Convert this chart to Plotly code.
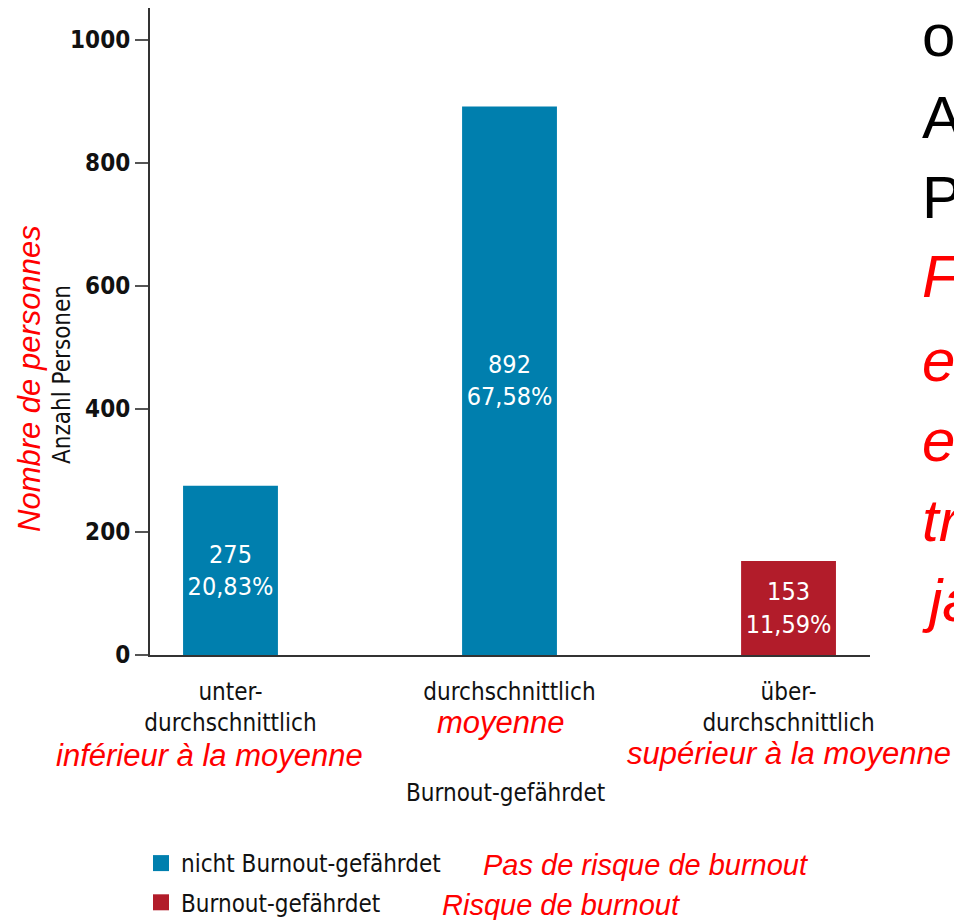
import plotly.graph_objects as go

# ---------------- data ----------------
categories = ["unter-<br>durchschnittlich", "durchschnittlich", "über-<br>durchschnittlich"]
categories_fr = ["inférieur à la moyenne", "moyenne", "supérieur à la moyenne"]
counts = [275, 892, 153]
percents = ["20,83%", "67,58%", "11,59%"]
series_of_bar = [0, 0, 1]          # 0 = nicht Burnout-gefährdet, 1 = Burnout-gefährdet
series_names = ["nicht Burnout-gefährdet", "Burnout-gefährdet"]
series_names_fr = ["Pas de risque de burnout", "Risque de burnout"]
y_ticks = [0, 200, 400, 600, 800, 1000]
y_title = "Anzahl Personen"
y_title_fr = "Nombre de personnes"
x_title = "Burnout-gefährdet"
side_text_black = ["o", "A", "P"]
side_text_red = ["F", "e", "e", "tr", "ja"]

# ---------------- style ----------------
COLORS = ["#007FAE", "#B21C2A"]
COND = "Liberation Sans Narrow, DejaVu Sans Condensed, Roboto Condensed, Liberation Sans, sans-serif"
ARIAL = "Liberation Sans, Arial, sans-serif"
RED = "#FF0000"

W, H = 954, 920
L, R, T, B = 150, 84, 8, 265
PW, PH = W - L - R, H - T - B

def px_x(page_x):
    return (page_x - L) / PW

def px_y(page_y):
    return (H - B - page_y) / PH

fig = go.Figure()

xpos = list(range(len(categories)))
for s in range(len(series_names)):
    idx = [i for i in xpos if series_of_bar[i] == s]
    fig.add_trace(go.Bar(
        x=[xpos[i] for i in idx],
        y=[counts[i] for i in idx],
        customdata=[percents[i] for i in idx],
        texttemplate="%{y}<br>%{customdata}",
        textposition="inside",
        insidetextanchor="middle",
        constraintext="none",
        textangle=0,
        textfont=dict(color="white", size=25, family=COND),
        marker=dict(color=COLORS[s], line=dict(width=0)),
        width=0.34,
        showlegend=False,
        hoverinfo="skip",
    ))

# legend entries (square markers)
for s in range(len(series_names)):
    fig.add_trace(go.Scatter(
        x=[None], y=[None], mode="markers",
        marker=dict(symbol="square", size=16, color=COLORS[s]),
        name=series_names[s], legendgroup="g%d" % s,
        showlegend=True,
    ))

fig.update_layout(
    width=W, height=H,
    margin=dict(l=L, r=R, t=T, b=B, pad=0, autoexpand=False),
    paper_bgcolor="white", plot_bgcolor="white",
    barmode="overlay",
    showlegend=True,
    legend=dict(
        x=px_x(141), y=px_y(841), xanchor="left", yanchor="top",
        orientation="v", itemsizing="trace", traceorder="grouped",
        font=dict(family=COND, size=24, color="#111"),
        bgcolor="rgba(0,0,0,0)", tracegroupgap=5,
    ),
    font=dict(family=COND, color="#111"),
)

fig.update_xaxes(
    range=[-0.2885, 2.292],
    tickvals=xpos, ticktext=categories,
    showline=True, linecolor="#333", linewidth=2,
    ticks="", showgrid=False, zeroline=False,
    tickfont=dict(family=COND, size=24, color="#111"),
    ticklabelstandoff=14,
)
fig.update_yaxes(
    range=[0, 1052],
    tickvals=y_ticks,
    showline=True, linecolor="#333", linewidth=2,
    ticks="outside", ticklen=13, tickwidth=2, tickcolor="#555",
    showgrid=False, zeroline=False,
    tickfont=dict(family=COND, size=24, color="#111", weight="bold"),
)

ann = []
# French category labels
fr_pos = [(-21, 755), (-9, 722), (0, 753)]
for i, t in enumerate(categories_fr):
    ann.append(dict(text=t, xref="x", x=xpos[i], xshift=fr_pos[i][0],
                    yref="paper", y=px_y(fr_pos[i][1]), xanchor="center", yanchor="middle",
                    showarrow=False, font=dict(family=ARIAL, size=31, color=RED, style="italic")))
# x axis title
ann.append(dict(text=x_title, xref="paper", x=px_x(505), yref="paper", y=px_y(793),
                xanchor="center", yanchor="middle", showarrow=False,
                font=dict(family=COND, size=24, color="#111")))
# y axis titles
ann.append(dict(text=y_title, xref="paper", x=px_x(62), yref="paper", y=px_y(375),
                xanchor="center", yanchor="middle", textangle=-90, showarrow=False,
                font=dict(family=COND, size=24, color="#111")))
ann.append(dict(text=y_title_fr, xref="paper", x=px_x(30), yref="paper", y=px_y(379),
                xanchor="center", yanchor="middle", textangle=-90, showarrow=False,
                font=dict(family=ARIAL, size=31, color=RED, style="italic")))
# legend French labels
leg_fr = [(481, 865), (440, 905)]
for s, t in enumerate(series_names_fr):
    ann.append(dict(text=t, xref="paper", x=px_x(leg_fr[s][0]), yref="paper", y=px_y(leg_fr[s][1]),
                    xanchor="left", yanchor="middle", showarrow=False,
                    font=dict(family=ARIAL, size=29, color=RED, style="italic")))
# cut-off side text on the right
side_y_black = [36, 118, 197]
side_y_red = [276, 360, 440, 520, 600]
for t, yy in zip(side_text_black, side_y_black):
    ann.append(dict(text=t, xref="paper", x=px_x(920), yref="paper", y=px_y(yy),
                    xanchor="left", yanchor="middle", showarrow=False,
                    font=dict(family=ARIAL, size=60, color="#000")))
for t, yy in zip(side_text_red, side_y_red):
    ann.append(dict(text=t, xref="paper", x=px_x(920), yref="paper", y=px_y(yy),
                    xanchor="left", yanchor="middle", showarrow=False,
                    font=dict(family=ARIAL, size=60, color=RED, style="italic")))

fig.update_layout(annotations=ann)
fig.write_html(
    "out.html",
    config={"displayModeBar": False},
    post_script="document.body.style.margin='0';document.body.style.overflow='hidden';",
)
